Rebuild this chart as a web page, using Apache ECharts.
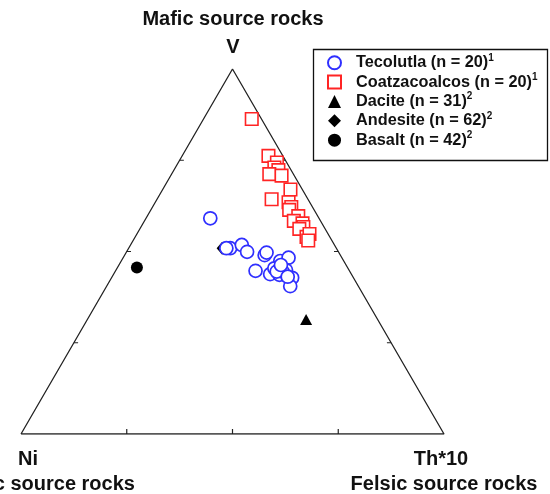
<!DOCTYPE html>
<html>
<head>
<meta charset="utf-8">
<script src="https://cdn.jsdelivr.net/npm/echarts@6/dist/echarts.min.js"></script>
<style>html,body{margin:0;padding:0;background:#fff}#c{width:550px;height:494px}</style>
</head>
<body>
<div id="c"></div>
<script>
// Ternary compositions: [V, Ni, Th*10] in percent
const tecolutla = [
  [59.1,25.7,15.2],[50.9,25.1,24.0],[51.8,21.9,26.3],[49.9,21.6,28.5],[49.0,17.9,33.1],
  [49.7,17.1,33.2],[44.7,22.2,33.1],[47.4,15.0,37.6],[48.3,12.6,39.1],[43.8,19.2,37.0],
  [45.4,17.4,37.2],[43.6,17.1,39.3],[44.9,14.9,40.2],[42.8,14.5,42.7],[40.5,16.1,43.4],
  [44.5,15.9,39.6],[50.9,26.0,23.1],[44.5,17.3,38.2],[43.1,15.4,41.5],[46.3,15.4,38.3]
];
const coatzacoalcos = [
  [86.3,2.3,11.4],[76.2,3.4,20.4],[74.4,2.3,23.3],[73.0,3.6,23.4],[72.3,3.0,24.7],
  [71.2,5.7,23.1],[70.8,3.0,26.2],[67.0,2.8,30.2],[64.3,8.6,27.1],[63.5,5.0,31.5],
  [62.2,5.0,32.8],[61.4,5.9,32.7],[59.7,4.6,35.7],[58.4,6.3,35.3],[57.7,4.6,37.7],
  [56.7,4.9,38.4],[56.2,6.1,37.7],[54.0,5.5,40.5],[54.8,4.4,40.8],[53.0,5.6,41.4]
];
const dacite = [[31.4,16.9,51.7]];
const andesite = [[50.9,27.0,22.1]];
const basalt = [[45.6,49.8,4.6]];

const seriesNames = ['Tecolutla (n = 20)','Coatzacoalcos (n = 20)','Dacite (n = 31)','Andesite (n = 62)','Basalt (n = 42)'];
const superscripts = ['1','1','2','2','2'];
const tickFractions = [25, 50, 75];
const cornerLabels = ['V','Ni','Th*10'];
const sourceLabels = ['Mafic source rocks','Ultramafic source rocks','Felsic source rocks'];

// ternary -> cartesian (x: 0..100, y: 0..100 of triangle height)
function tern(p){
  const s = p[0]+p[1]+p[2];
  const a = p[0]/s, c = p[2]/s;
  return [(c + a/2)*100, a*100];
}
const conv = arr => arr.map(tern);

// frame + ticks
const frame = [tern([0,100,0]), tern([0,0,100]), tern([100,0,0]), tern([0,100,0])];
const ticks = [];
tickFractions.forEach(f => {
  const b = tern([0,100-f,f]); ticks.push(b, [b[0], b[1]+1.4], '-');
  const l = tern([f,100-f,0]); ticks.push(l, [l[0]+1.0, l[1]], '-');
  const r = tern([f,0,100-f]); ticks.push(r, [r[0]-1.0, r[1]], '-');
});

const FONT = 'Liberation Sans, Arial, sans-serif';
const chart = echarts.init(document.getElementById('c'), null, {renderer:'canvas'});
const blue = '#2f2fff', red = '#ff2424';
chart.setOption({
  animation: false,
  grid: {left: 21, top: 69, width: 423, height: 365},
  xAxis: {type:'value', min:0, max:100, show:false},
  yAxis: {type:'value', min:0, max:100, show:false},
  legend: {
    orient: 'vertical', left: 327, top: 53, padding: 0, itemGap: 1.6,
    itemWidth: 13, itemHeight: 13,
    data: seriesNames,
    formatter: name => '{t|' + name + '}{s|' + superscripts[seriesNames.indexOf(name)] + '}',
    textStyle: {
      padding: [0,0,0,10],
      rich: {
        t: {fontFamily: FONT, fontWeight: 'bold', fontSize: 16.3, lineHeight: 19.5, color: '#111'},
        s: {fontFamily: FONT, fontWeight: 'bold', fontSize: 10, lineHeight: 11, verticalAlign: 'top', color: '#111'}
      }
    }
  },
  graphic: [
    {type:'rect', left: 311, top: 47, shape:{width: 234, height: 111}, style:{fill:'none', stroke:'#111', lineWidth:1.3}, z: 10},
    {type:'text', x: 233, y: 19, style:{text: sourceLabels[0], font:'bold 20px '+FONT, fill:'#111', textAlign:'center', textVerticalAlign:'middle'}},
    {type:'text', x: 233, y: 47, style:{text: cornerLabels[0], font:'bold 20px '+FONT, fill:'#111', textAlign:'center', textVerticalAlign:'middle'}},
    {type:'text', x: 28, y: 459, style:{text: cornerLabels[1], font:'bold 20px '+FONT, fill:'#111', textAlign:'center', textVerticalAlign:'middle'}},
    {type:'text', x: 441, y: 459, style:{text: cornerLabels[2], font:'bold 20px '+FONT, fill:'#111', textAlign:'center', textVerticalAlign:'middle'}},
    {type:'text', x: 21, y: 484, style:{text: sourceLabels[1], font:'bold 20px '+FONT, fill:'#111', textAlign:'center', textVerticalAlign:'middle'}},
    {type:'text', x: 444, y: 484, style:{text: sourceLabels[2], font:'bold 20px '+FONT, fill:'#111', textAlign:'center', textVerticalAlign:'middle'}}
  ],
  series: [
    {type:'line', data: frame, symbol:'none', silent:true, lineStyle:{color:'#222', width:1.3}, z:1},
    {type:'line', data: ticks, symbol:'none', silent:true, connectNulls:false, lineStyle:{color:'#222', width:1.2}, z:1},
    {name: seriesNames[4], type:'scatter', data: conv(basalt), symbol:'circle', symbolSize: 12, itemStyle:{color:'#000', opacity:1}, z:2},
    {name: seriesNames[3], type:'scatter', data: conv(andesite), symbol:'diamond', symbolSize: [11,13], itemStyle:{color:'#000', opacity:1}, z:2},
    {name: seriesNames[2], type:'scatter', data: conv(dacite), symbol:'triangle', symbolSize: [12,11], itemStyle:{color:'#000', opacity:1}, z:2},
    {name: seriesNames[1], type:'scatter', data: conv(coatzacoalcos), symbol:'rect', symbolSize: 12.5, itemStyle:{color:'#fff', borderColor: red, borderWidth:1.6, opacity:1}, z:3},
    {name: seriesNames[0], type:'scatter', data: conv(tecolutla), symbol:'circle', symbolSize: 13, itemStyle:{color:'#fff', borderColor: blue, borderWidth:1.7, opacity:1}, z:3}
  ]
});
</script>
</body>
</html>
